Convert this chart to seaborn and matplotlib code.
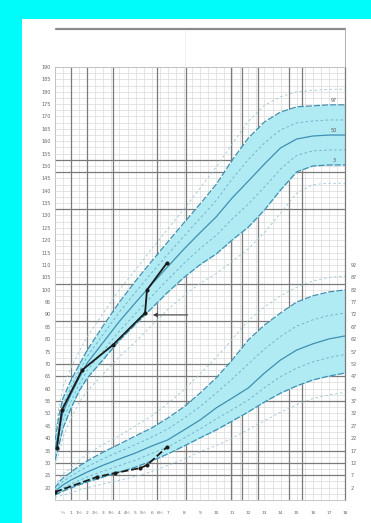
import matplotlib
matplotlib.use("Agg")
import matplotlib.pyplot as plt
import seaborn as sns
import pandas as pd
from matplotlib.lines import Line2D
from matplotlib.patches import Rectangle

sns.set_style("white")

# age in years
ages = [0, 0.25, 0.5, 1, 1.5, 2, 3, 4, 5, 6, 7, 8, 9, 10, 11, 12, 13, 14, 15, 16, 17, 18]

# height percentile curves (cm)
h_hi = [41, 53, 61, 68.5, 75, 81, 90.5, 100, 108, 116.5, 124.5, 132.5, 141, 149.5, 159, 168, 174.5, 178, 180, 180.5, 181, 181]
h_p97 = [39.3, 49.4, 56.2, 63.5, 69.6, 75.6, 85.5, 95.0, 103.5, 111.5, 119.3, 127.0, 134.6, 142.5, 152.4, 161.3, 167.8, 171.8, 173.9, 174.3, 174.7, 174.7]
h_p75 = [37.3, 46.4, 53.4, 60.7, 67.0, 73.0, 82.0, 91.0, 99.0, 106.8, 114.3, 121.6, 128.8, 136.0, 144.8, 152.6, 159.3, 164.6, 167.4, 168.2, 168.6, 168.6]
h_p50 = [35.2, 43.3, 50.6, 57.8, 64.3, 70.4, 78.8, 87.2, 94.8, 102.2, 109.3, 116.4, 123.0, 129.4, 137.1, 143.9, 150.8, 157.3, 160.9, 162.1, 162.5, 162.5]
h_p25 = [33.2, 40.3, 47.4, 55.0, 61.7, 67.4, 75.3, 83.3, 90.3, 97.3, 104.1, 110.6, 116.6, 121.9, 128.6, 134.6, 141.5, 148.8, 154.3, 156.1, 156.5, 156.5]
h_p3 = [31.2, 37.2, 44.1, 52.2, 59.1, 64.3, 71.8, 79.5, 86.0, 92.5, 99.0, 104.9, 110.1, 114.4, 120.1, 125.3, 132.2, 140.3, 147.6, 150.0, 150.4, 150.4]
h_lo = [29, 34, 40.5, 48, 54.5, 59, 66, 73, 79, 85.5, 92, 97.5, 102.5, 106.5, 111.5, 116.5, 123, 131, 139, 142.5, 143, 143]

# weight percentile curves (same chart units)
w_hi = [20.5, 23.5, 25.5, 28, 31, 33.5, 37.5, 41, 45, 49, 54, 59.5, 66, 72.5, 80, 87.5, 93, 97.5, 101, 103.5, 105, 105.5]
w_p97 = [19.9, 22.3, 23.9, 26.3, 28.7, 30.8, 34.4, 37.6, 40.9, 44.1, 48.1, 52.6, 58.2, 64.3, 71.6, 79.7, 85.7, 90.6, 95.0, 97.5, 99.1, 99.9]
w_p75 = [19.0, 21.1, 22.5, 24.7, 26.7, 28.5, 31.7, 34.6, 37.4, 40.4, 43.7, 48.0, 52.7, 58.2, 63.9, 70.0, 76.0, 81.1, 85.3, 87.8, 89.6, 90.6]
w_p50 = [18.2, 19.9, 21.1, 23.1, 24.7, 26.3, 29.1, 31.6, 34.0, 36.8, 39.3, 43.3, 47.3, 52.2, 56.2, 60.3, 66.3, 71.6, 75.6, 78.1, 80.1, 81.3]
w_p25 = [17.6, 18.8, 19.8, 21.5, 22.9, 24.3, 26.7, 28.9, 31.1, 33.8, 36.4, 40.0, 43.7, 47.7, 51.5, 55.4, 60.4, 64.9, 68.3, 70.8, 72.6, 73.8]
w_p3 = [17.0, 17.8, 18.6, 19.9, 21.1, 22.3, 24.3, 26.3, 28.3, 30.8, 33.6, 36.8, 40.1, 43.3, 46.9, 50.6, 54.6, 58.2, 61.1, 63.5, 65.1, 66.3]
w_lo = [16, 16.5, 17, 18, 19, 20, 21.5, 23, 24.5, 26.5, 29, 31.5, 34.5, 37, 40, 43.5, 47, 50.5, 53.5, 56, 57.5, 58.5]

# patient measurements
pt_h_age = [0.12, 0.43, 1.68, 3.6, 5.59, 5.71, 6.95]
pt_h = [36.0, 51.4, 67.5, 77.7, 90.6, 99.9, 110.8]
pt_w_age = [0, 2.6, 3.72, 5.28, 5.71, 6.95]
pt_w = [18.2, 24.3, 25.9, 27.9, 29.1, 36.4]

# heavy grid lines
major_x = [1, 2, 3.6, 6.3, 8.1, 10.9, 11.6, 12.6, 14.5, 15.3]
major_y = [152.5, 147.5, 132.5, 102.5, 87.5, 70, 65, 55, 35, 30, 25]

left_ticks = list(range(20, 195, 5))
right_ticks = list(range(20, 115, 5))
right_labels = [str(v - 18) for v in right_ticks]
x_ticks = [0.5, 1, 1.5, 2, 2.5, 3, 3.5, 4, 4.5, 5, 5.5, 6, 6.5, 7, 8, 9, 10, 11, 12, 13, 14, 15, 16, 17, 18]
x_labels = ["½", "1", "1½", "2", "2½", "3", "3½", "4", "4½", "5", "5½", "6", "6½", "7",
            "8", "9", "10", "11", "12", "13", "14", "15", "16", "17", "18"]

arrow_tail = (8.4, 89.8)
arrow_head = (5.9, 89.8)

W, H = 371, 523
fig = plt.figure(figsize=(W / 100, H / 100), dpi=100)
fig.patch.set_facecolor("#00fbfb")
fig.add_artist(Rectangle((22 / W, 0), 1, (H - 19) / H, transform=fig.transFigure,
                         facecolor="white", edgecolor="none", zorder=-10))

ax = fig.add_axes([55 / W, (H - 500) / H, 290 / W, 433 / H])
ax.set_facecolor("white")
ax.set_xlim(0, 18)
ax.set_ylim(15, 190)

# light grid
ax.set_xticks([i * 0.5 for i in range(37)], minor=True)
ax.set_yticks([15 + i * 2.5 for i in range(71)], minor=True)
ax.grid(which="both", color="#dadada", lw=0.5)
for x in major_x:
    ax.axvline(x, color="#7a7a7a", lw=0.9, zorder=1)
for y in major_y:
    ax.axhline(y, color="#7a7a7a", lw=0.9, zorder=1)

band = "#b0ebf3"
line_c = "#3f8fb2"
ax.fill_between(ages, h_p3, h_p97, color=band, zorder=2, lw=0)
ax.fill_between(ages, w_p3, w_p97, color=band, zorder=2, lw=0)

curves = pd.DataFrame({"age": ages, "h_hi": h_hi, "h_p97": h_p97, "h_p75": h_p75, "h_p50": h_p50,
                       "h_p25": h_p25, "h_p3": h_p3, "h_lo": h_lo, "w_hi": w_hi, "w_p97": w_p97,
                       "w_p75": w_p75, "w_p50": w_p50, "w_p25": w_p25, "w_p3": w_p3, "w_lo": w_lo})
for pre in ["h_", "w_"]:
    sns.lineplot(data=curves, x="age", y=pre + "p50", ax=ax, color=line_c, lw=0.9, zorder=3)
    for name in ["p97", "p3"]:
        sns.lineplot(data=curves, x="age", y=pre + name, ax=ax, color=line_c, lw=0.9,
                     linestyle=(0, (5, 1.5)), zorder=3)
    for name in ["p75", "p25"]:
        sns.lineplot(data=curves, x="age", y=pre + name, ax=ax, color="#6aaac6", lw=0.6,
                     linestyle=(0, (3, 3)), zorder=3)
    for name in ["hi", "lo"]:
        sns.lineplot(data=curves, x="age", y=pre + name, ax=ax, color="#9cc6d8", lw=0.6,
                     linestyle=(0, (3, 3)), zorder=3)

sns.lineplot(x=pt_h_age, y=pt_h, ax=ax, color="#1a1a1a", lw=1.3, marker="o", ms=2.2,
             mec="#1a1a1a", zorder=5)
sns.lineplot(x=pt_w_age, y=pt_w, ax=ax, color="#1a1a1a", lw=1.3, marker="o", ms=2.2,
             mec="#1a1a1a", zorder=5, linestyle=(0, (4, 1.5)))

ax.annotate("", xy=arrow_head, xytext=arrow_tail,
            arrowprops=dict(arrowstyle="-|>", color="#444444", lw=0.8, mutation_scale=6), zorder=6)

for lab, y in [("97", h_p97[-1]), ("50", h_p50[-1]), ("3", h_p3[-1])]:
    ax.text(17.3, y + 0.8, lab, fontsize=3.5, color="#555555", ha="center", va="bottom", zorder=6)

ax.set_xlabel("")
ax.set_ylabel("")
ax.set_yticks(left_ticks)
ax.set_yticklabels([str(v) for v in left_ticks], fontsize=3.5, color="#666666")
ax.set_xticks(x_ticks)
ax.set_xticklabels(x_labels, fontsize=3.2, color="#666666")
ax.tick_params(axis="y", which="both", length=0, pad=3)
ax.tick_params(axis="x", which="both", length=0, pad=8)
for s in ["left", "top", "bottom"]:
    ax.spines[s].set_color("#bdbdbd")
    ax.spines[s].set_linewidth(0.6)
ax.spines["right"].set_color("#7a7a7a")
ax.spines["right"].set_linewidth(0.9)

ax2 = ax.twinx()
ax2.set_ylim(ax.get_ylim())
ax2.set_yticks(right_ticks)
ax2.set_yticklabels(right_labels, fontsize=3.5, color="#666666")
ax2.tick_params(length=0, pad=4)
for s in ax2.spines.values():
    s.set_visible(False)

# header box above the grid
fig.add_artist(Line2D([56 / W, 345 / W], [(H - 29) / H, (H - 29) / H], color="#8a8a8a", lw=1.6))
fig.add_artist(Line2D([345 / W, 345 / W], [(H - 29) / H, (H - 67) / H], color="#b0b0b0", lw=0.7))
fig.add_artist(Line2D([185 / W, 185 / W], [(H - 31) / H, (H - 67) / H], color="#ececec", lw=0.6))

fig.savefig("out.png", dpi=100)
